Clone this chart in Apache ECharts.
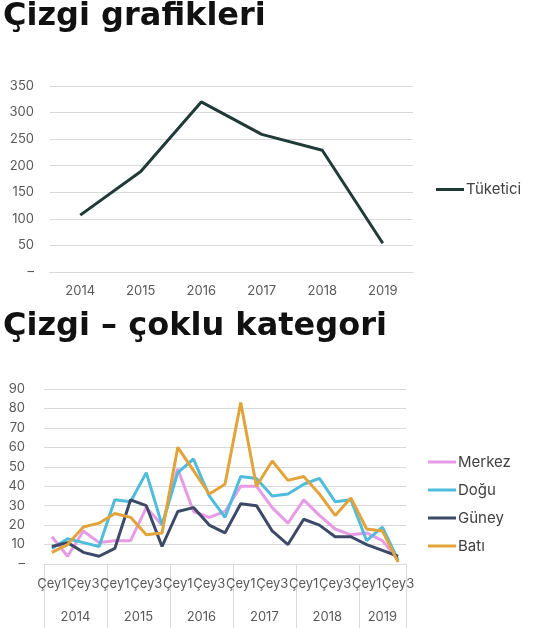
<!DOCTYPE html>
<html>
<head>
<meta charset="utf-8">
<script src="https://cdn.jsdelivr.net/npm/echarts@6/dist/echarts.min.js"></script>
<style>
  html, body { margin: 0; padding: 0; background: #fff; }
  #chart { width: 543px; height: 628px; }
</style>
</head>
<body>
<div id="chart"></div>
<script>
// top chart: yearly consumer values
const years = ['2014', '2015', '2016', '2017', '2018', '2019']
const consumerValues = [107, 189, 320, 259, 229, 54]

// bottom chart: quarterly values per region
const quarterNames = ['Çey1', 'Çey2', 'Çey3', 'Çey4']
const quartersPerYear = [4, 4, 4, 4, 4, 3]
const merkezValues = [14, 4, 17, 11, 12, 12, 29, 20, 49, 27, 24, 27, 40, 40, 29, 21, 33, 25, 18, 15, 16, 12, 2]
const doguValues = [8, 13, 11, 9, 33, 32, 47, 20, 47, 54, 35, 24, 45, 44, 35, 36, 41, 44, 32, 33, 12, 19, 2]
const guneyValues = [9, 11, 6, 4, 8, 33, 30, 9, 27, 29, 20, 16, 31, 30, 17, 10, 23, 20, 14, 14, 10, 7, 4]
const batiValues = [6, 10, 19, 21, 26, 24, 15, 16, 60, 48, 36, 41, 83, 40, 53, 43, 45, 36, 25, 34, 18, 17, 1]

const FONT = 'Inter, "Noto Sans", sans-serif'
const TITLE_FONT = '"DejaVu Sans", "Open Sans", sans-serif'
const GRID_COLOR = '#d9d9d9'
const LABEL_COLOR = '#595959'

// quarter categories and the half-step year axis built from them
const quarterCats = []
const yearAxisData = []
const yearBoundaries = new Set()
let start = 0
quartersPerYear.forEach((count) => {
  for (let q = 0; q < count; q += 1) {
    quarterCats.push(quarterNames[q])
  }
  yearBoundaries.add(start * 2)
  start += count
})
yearBoundaries.add(start * 2)
for (let i = 0; i <= start * 2; i += 1) {
  yearAxisData.push('')
}
start = 0
quartersPerYear.forEach((count, idx) => {
  yearAxisData[start * 2 + count] = years[idx]
  start += count
})

const dashZero = (value) => (value === 0 ? '–' : String(value))

const chart = echarts.init(document.getElementById('chart'))

chart.setOption({
  backgroundColor: '#fff',
  animation: false,
  textStyle: { fontFamily: FONT },
  title: [
    {
      text: 'Çizgi grafikleri',
      left: 3,
      top: 1,
      padding: 0,
      textStyle: { fontFamily: TITLE_FONT, fontSize: 32, fontWeight: 'bold', color: '#111' },
    },
    {
      text: 'Çizgi – çoklu kategori',
      left: 3,
      top: 311,
      padding: 0,
      textStyle: { fontFamily: TITLE_FONT, fontSize: 32, fontWeight: 'bold', color: '#111' },
    },
  ],
  legend: [
    {
      data: ['Tüketici'],
      left: 431,
      top: 177,
      icon: 'rect',
      itemWidth: 28,
      itemHeight: 3,
      itemGap: 4,
      textStyle: { fontFamily: FONT, fontSize: 15, color: '#404040', padding: [0, 0, 0, -3] },
    },
    {
      data: ['Merkez', 'Doğu', 'Güney', 'Batı'],
      orient: 'vertical',
      left: 423,
      top: 448,
      icon: 'rect',
      itemWidth: 28,
      itemHeight: 3,
      itemGap: 10,
      textStyle: { fontFamily: FONT, fontSize: 15, color: '#404040', lineHeight: 18, padding: [0, 0, 0, -3] },
    },
  ],
  grid: [
    { left: 50, top: 86, width: 363, height: 186 },
    { left: 44, top: 389, width: 362, height: 175 },
  ],
  xAxis: [
    {
      type: 'category',
      gridIndex: 0,
      data: years,
      boundaryGap: true,
      axisLine: { lineStyle: { color: GRID_COLOR } },
      axisTick: { show: false },
      axisLabel: { color: LABEL_COLOR, fontSize: 13, margin: 13 },
    },
    {
      type: 'category',
      gridIndex: 1,
      position: 'bottom',
      data: quarterCats,
      boundaryGap: true,
      axisLine: { lineStyle: { color: GRID_COLOR } },
      axisTick: { show: false },
      axisLabel: { color: LABEL_COLOR, fontSize: 13, margin: 14, interval: 1 },
    },
    {
      type: 'category',
      gridIndex: 1,
      position: 'bottom',
      data: yearAxisData,
      boundaryGap: false,
      axisLine: { show: false },
      axisTick: {
        show: true,
        length: 64,
        interval: (index) => yearBoundaries.has(index),
        lineStyle: { color: GRID_COLOR },
      },
      axisLabel: {
        color: LABEL_COLOR,
        fontSize: 13,
        margin: 47,
        interval: (index, value) => value !== '',
      },
    },
  ],
  yAxis: [
    {
      type: 'value',
      gridIndex: 0,
      min: 0,
      max: 350,
      interval: 50,
      axisLine: { show: false },
      axisTick: { show: false },
      axisLabel: { color: LABEL_COLOR, fontSize: 13, margin: 16, formatter: dashZero },
      splitLine: { lineStyle: { color: GRID_COLOR } },
    },
    {
      type: 'value',
      gridIndex: 1,
      min: 0,
      max: 90,
      interval: 10,
      axisLine: { show: false },
      axisTick: { show: false },
      axisLabel: { color: LABEL_COLOR, fontSize: 13, margin: 19, formatter: dashZero },
      splitLine: { lineStyle: { color: GRID_COLOR } },
    },
  ],
  series: [
    {
      name: 'Tüketici',
      type: 'line',
      xAxisIndex: 0,
      yAxisIndex: 0,
      data: consumerValues,
      symbol: 'none',
      color: '#1f3a37',
      lineStyle: { width: 3, color: '#1f3a37' },
    },
    {
      name: 'Merkez',
      type: 'line',
      xAxisIndex: 1,
      yAxisIndex: 1,
      data: merkezValues,
      symbol: 'none',
      color: '#e79be6',
      lineStyle: { width: 3, color: '#e79be6' },
    },
    {
      name: 'Doğu',
      type: 'line',
      xAxisIndex: 1,
      yAxisIndex: 1,
      data: doguValues,
      symbol: 'none',
      color: '#4fbcdc',
      lineStyle: { width: 3, color: '#4fbcdc' },
    },
    {
      name: 'Güney',
      type: 'line',
      xAxisIndex: 1,
      yAxisIndex: 1,
      data: guneyValues,
      symbol: 'none',
      color: '#3c4a68',
      lineStyle: { width: 3, color: '#3c4a68' },
    },
    {
      name: 'Batı',
      type: 'line',
      xAxisIndex: 1,
      yAxisIndex: 1,
      data: batiValues,
      symbol: 'none',
      color: '#e2a33b',
      lineStyle: { width: 3, color: '#e2a33b' },
    },
  ],
})
</script>
</body>
</html>
